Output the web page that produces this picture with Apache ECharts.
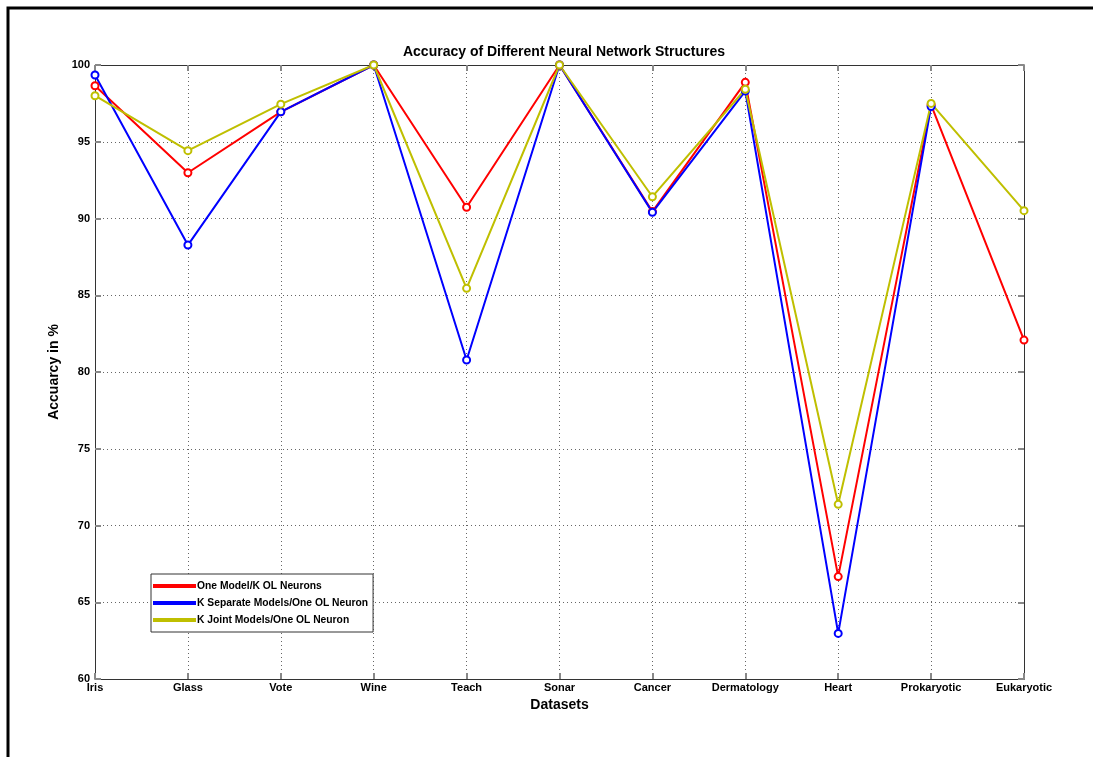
<!DOCTYPE html>
<html>
<head>
<meta charset="utf-8">
<script src="https://cdn.jsdelivr.net/npm/echarts@6/dist/echarts.min.js"></script>
<style>
  html, body { margin: 0; padding: 0; background: #fff; }
  #chart { width: 1093px; height: 757px; }
</style>
</head>
<body>
<div id="chart"></div>
<script>
// Datasets on the x axis
const datasets = ['Iris', 'Glass', 'Vote', 'Wine', 'Teach', 'Sonar', 'Cancer', 'Dermatology', 'Heart', 'Prokaryotic', 'Eukaryotic'];

// Accuracy (%) per network structure
const oneModelKNeurons = [98.65, 92.98, 96.95, 100, 90.73, 100, 90.45, 98.87, 66.67, 97.4, 82.08];
const kSeparateModels = [99.35, 88.27, 96.95, 100, 80.78, 100, 90.4, 98.3, 62.97, 97.3, null];
const kJointModels = [98.0, 94.42, 97.45, 100, 85.45, 100, 91.42, 98.42, 71.38, 97.5, 90.51];

const seriesNames = ['One Model/K OL Neurons', 'K Separate Models/One OL Neuron', 'K Joint Models/One OL Neuron'];
const yTicks = { min: 60, max: 100, step: 5 };

const FONT = 'Liberation Sans, Arial, sans-serif';
const chart = echarts.init(document.getElementById('chart'));

function lineSeries(name, data, color) {
  return {
    name: name,
    type: 'line',
    data: data,
    symbol: 'emptyCircle',
    symbolSize: 7,
    connectNulls: false,
    lineStyle: { color: color, width: 2 },
    itemStyle: { color: color, borderColor: color, borderWidth: 1.2 },
    emphasis: { disabled: true },
    animation: false
  };
}

const dotted = { show: true, lineStyle: { color: '#666', type: [1, 3], width: 1 } };

chart.setOption({
  backgroundColor: '#fff',
  animation: false,
  title: {
    text: 'Accuracy of Different Neural Network Structures',
    left: 559, top: 40, textAlign: 'center',
    textStyle: { fontFamily: FONT, fontSize: 14, fontWeight: 'bold', color: '#000' }
  },
  grid: { left: 95, top: 65, right: 69, bottom: 78, containLabel: false },
  legend: {
    orient: 'vertical',
    left: 151, top: 574,
    data: seriesNames,
    icon: 'rect',
    itemWidth: 41, itemHeight: 2,
    itemGap: 7,
    padding: [7, 5, 7, 2],
    backgroundColor: '#fff',
    borderColor: '#333', borderWidth: 1,
    selectedMode: false,
    textStyle: { fontFamily: FONT, fontSize: 10.3, fontWeight: 'bold', color: '#000', padding: [0, 0, 0, -3] }
  },
  xAxis: [{
    type: 'category',
    data: datasets,
    boundaryGap: false,
    name: 'Datasets',
    nameLocation: 'middle',
    nameGap: 18,
    nameTextStyle: { fontFamily: FONT, fontSize: 14, fontWeight: 'bold', color: '#000' },
    axisLine: { show: true, lineStyle: { color: '#333', width: 1 } },
    axisTick: { show: true, inside: true, length: 6, lineStyle: { color: '#888', width: 2 } },
    axisLabel: { fontFamily: FONT, fontSize: 11, fontWeight: 'bold', color: '#000', margin: 3, interval: 0 },
    splitLine: dotted
  }, {
    type: 'category',
    data: datasets,
    boundaryGap: false,
    position: 'top',
    axisLine: { show: true, lineStyle: { color: '#333', width: 1 } },
    axisTick: { show: true, inside: true, length: 6, lineStyle: { color: '#888', width: 2 } },
    axisLabel: { show: false },
    splitLine: { show: false }
  }],
  yAxis: [{
    type: 'value',
    min: yTicks.min, max: yTicks.max, interval: yTicks.step,
    name: 'Accuarcy in %',
    nameLocation: 'middle',
    nameGap: 26,
    nameTextStyle: { fontFamily: FONT, fontSize: 14, fontWeight: 'bold', color: '#000' },
    axisLine: { show: true, lineStyle: { color: '#333', width: 1 } },
    axisTick: { show: true, inside: true, length: 6, lineStyle: { color: '#888', width: 2 } },
    axisLabel: { fontFamily: FONT, fontSize: 11, fontWeight: 'bold', color: '#000', margin: 5 },
    splitLine: dotted
  }, {
    type: 'value',
    min: yTicks.min, max: yTicks.max, interval: yTicks.step,
    position: 'right',
    axisLine: { show: true, lineStyle: { color: '#333', width: 1 } },
    axisTick: { show: true, inside: true, length: 6, lineStyle: { color: '#888', width: 2 } },
    axisLabel: { show: false },
    splitLine: { show: false }
  }],
  series: [
    lineSeries(seriesNames[0], oneModelKNeurons, '#ff0000'),
    lineSeries(seriesNames[1], kSeparateModels, '#0000ff'),
    lineSeries(seriesNames[2], kJointModels, '#bfbf00')
  ],
  graphic: [{
    type: 'rect',
    shape: { x: 8, y: 8, width: 1200, height: 900 },
    style: { fill: 'none', stroke: '#000', lineWidth: 3 },
    silent: true
  }]
});
</script>
</body>
</html>
